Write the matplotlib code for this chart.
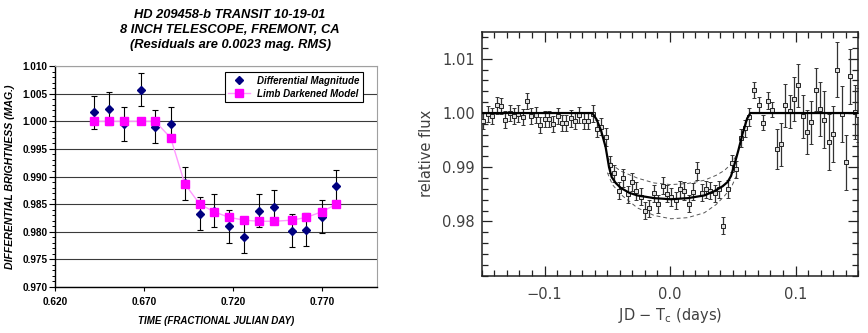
import matplotlib.pyplot as plt
from matplotlib.ticker import MultipleLocator

# ---------------- left panel: 8 inch telescope, Fremont (Excel style) ----------------
time_frac = [0.6421, 0.6503, 0.6585, 0.6681, 0.6762, 0.6850, 0.6929, 0.7013, 0.7095,
             0.7179, 0.7264, 0.7346, 0.7431, 0.7532, 0.7613, 0.7698, 0.7782]
diff_mag = [1.0016, 1.0023, 0.9995, 1.0057, 0.9990, 0.9995, 0.9888, 0.9833, 0.9838,
            0.9810, 0.9791, 0.9838, 0.9845, 0.9802, 0.9804, 0.9827, 0.9882]
diff_err = [0.0030, 0.0030, 0.0030, 0.0030, 0.0030, 0.0030, 0.0030, 0.0030, 0.0030,
            0.0030, 0.0030, 0.0030, 0.0030, 0.0030, 0.0030, 0.0030, 0.0030]
limb_model = [1.0000, 1.0000, 1.0000, 1.0000, 1.0000, 0.9970, 0.9887, 0.9850, 0.9836,
              0.9826, 0.9821, 0.9819, 0.9819, 0.9821, 0.9826, 0.9836, 0.9850]

left_xticks = [0.620, 0.670, 0.720, 0.770]
left_xlabels = ['0.620', '0.670', '0.720', '0.770']
left_yticks = [0.970, 0.975, 0.980, 0.985, 0.990, 0.995, 1.000, 1.005, 1.010]
left_ylabels = ['0.970', '0.975', '0.980', '0.985', '0.990', '0.995', '1.000', '1.005', '1.010']

# ---------------- right panel: published light curve ----------------
jd_tc = [-0.1490, -0.1450, -0.1415, -0.1381, -0.1346, -0.1312, -0.1277, -0.1242, -0.1208,
         -0.1173, -0.1139, -0.1104, -0.1069, -0.1035, -0.1000, -0.0965, -0.0931, -0.0896,
         -0.0862, -0.0827, -0.0792, -0.0758, -0.0723, -0.0688, -0.0651, -0.0617,
         -0.0582, -0.0547, -0.0513, -0.0478, -0.0443, -0.0406, -0.0371, -0.0337, -0.0302,
         -0.0268, -0.0233, -0.0199, -0.0164, -0.0129, -0.0095, -0.0060, -0.0025, 0.0009,
         0.0044, 0.0079, 0.0113, 0.0148, 0.0182, 0.0217, 0.0252, 0.0286, 0.0321, 0.0356,
         0.0390, 0.0425, 0.0459, 0.0494, 0.0529, 0.0563, 0.0598, 0.0632,
         0.0672, 0.0707, 0.0742, 0.0779, 0.0811, 0.0848, 0.0883, 0.0918, 0.0952, 0.0987,
         0.1021, 0.1056, 0.1091, 0.1125, 0.1160, 0.1194, 0.1226, 0.1264, 0.1298, 0.1333,
         0.1367, 0.1402, 0.1437, 0.1471, 0.1500]
rel_flux = [0.9985, 0.9998, 0.9995, 1.0014, 1.0013, 0.9988, 1.0000, 0.9994, 0.9999,
            0.9993, 1.0022, 0.9994, 0.9997, 0.9978, 0.9989, 0.9989, 0.9980, 0.9995,
            0.9982, 0.9981, 0.9990, 0.9985, 0.9996, 0.9985, 0.9985, 0.9999,
            0.9971, 0.9975, 0.9956, 0.9905, 0.9889, 0.9857, 0.9880, 0.9850, 0.9873,
            0.9856, 0.9846, 0.9820, 0.9824, 0.9852, 0.9832, 0.9866, 0.9851, 0.9845,
            0.9839, 0.9859, 0.9856, 0.9833, 0.9855, 0.9893, 0.9853, 0.9859, 0.9857, 0.9852,
            0.9859, 0.9792, 0.9860, 0.9907, 0.9896, 0.9954, 0.9972, 0.9993,
            1.0042, 1.0015, 0.9982, 1.0023, 1.0006, 0.9934, 0.9942, 1.0014, 1.0003, 1.0026,
            1.0051, 0.9994, 0.9965, 0.9983, 1.0043, 1.0008, 0.9988, 0.9947, 0.9961, 1.0080,
            0.9998, 0.9909, 1.0068, 1.0002, 0.9996]
flux_err = [0.0015, 0.0015, 0.0015, 0.0015, 0.0015, 0.0015, 0.0015, 0.0015, 0.0015,
            0.0015, 0.0015, 0.0015, 0.0015, 0.0015, 0.0015, 0.0015, 0.0015, 0.0015,
            0.0015, 0.0015, 0.0015, 0.0015, 0.0015, 0.0015, 0.0015, 0.0015,
            0.0016, 0.0016, 0.0016, 0.0016, 0.0016, 0.0016, 0.0016, 0.0016, 0.0016,
            0.0016, 0.0016, 0.0016, 0.0016, 0.0016, 0.0016, 0.0016, 0.0016, 0.0016,
            0.0016, 0.0016, 0.0016, 0.0016, 0.0016, 0.0016, 0.0016, 0.0016, 0.0016, 0.0016,
            0.0016, 0.0016, 0.0016, 0.0016, 0.0016, 0.0016, 0.0016, 0.0016,
            0.0015, 0.0014, 0.0014, 0.0015, 0.0014, 0.0037, 0.0040, 0.0040, 0.0030, 0.0040,
            0.0040, 0.0040, 0.0040, 0.0040, 0.0040, 0.0050, 0.0052, 0.0052, 0.0052, 0.0051,
            0.0051, 0.0051, 0.0051, 0.0050, 0.0050]

fit_t = [-0.150, -0.0619, -0.0585, -0.0550, -0.0513, -0.0486, -0.0465, -0.0433, -0.0393,
         -0.0326, -0.0260, -0.0126, 0.0007, 0.0140, 0.0273, 0.0353, 0.0419, 0.0459,
         0.0486, 0.0513, 0.0545, 0.0579, 0.0614, 0.0640, 0.150]
fit_flux = [1.0000, 1.0000, 0.9988, 0.9968, 0.9937, 0.9900, 0.9882, 0.9871, 0.9862,
            0.9853, 0.9848, 0.9843, 0.9841, 0.9843, 0.9848, 0.9856, 0.9865, 0.9873,
            0.9884, 0.9905, 0.9932, 0.9963, 0.9990, 1.0000, 1.0000]

band_t = [-0.0499, -0.0459, -0.0393, -0.0260, -0.0126, 0.0007, 0.0140, 0.0273, 0.0366,
          0.0433, 0.0486, 0.0526]
band_hi = [0.9919, 0.9904, 0.9893, 0.9880, 0.9871, 0.9868, 0.9870, 0.9876, 0.9885,
           0.9894, 0.9906, 0.9921]
band_lo = [0.9890, 0.9868, 0.9850, 0.9825, 0.9811, 0.9805, 0.9807, 0.9816, 0.9831,
           0.9847, 0.9862, 0.9883]

right_xticks = [-0.1, 0.0, 0.1]
right_xlabels = ['\u22120.1', '0.0', '0.1']
right_yticks = [0.98, 0.99, 1.00, 1.01]
right_ylabels = ['0.98', '0.99', '1.00', '1.01']

fig = plt.figure(figsize=(8.68, 3.33), dpi=100)

# ---- left ----
bi = dict(family='Liberation Sans', weight='bold', style='italic')
axL = fig.add_axes([0.0634, 0.1381, 0.371, 0.6637])
axL.errorbar(time_frac, diff_mag, yerr=diff_err, fmt='none', ecolor='black',
             elinewidth=0.8, capsize=2.5, capthick=0.8, zorder=3)
axL.plot(time_frac, diff_mag, 'D', color='#000080', ms=4.5, zorder=4,
         label='Differential Magnitude')
axL.plot(time_frac, limb_model, '-', color='#ff99ff', lw=1.0, marker='s',
         mfc='#ff00ff', mec='#ff00ff', ms=5.2, zorder=5, label='Limb Darkened Model')
axL.set_xlim(0.620, 0.801)
axL.set_ylim(0.970, 1.010)
axL.set_xticks(left_xticks)
axL.set_xticklabels(left_xlabels, fontdict=dict(family='Liberation Sans', weight='bold', size=7.2))
axL.set_yticks(left_yticks)
axL.set_yticklabels(left_ylabels, fontdict=dict(family='Liberation Sans', weight='bold', size=7.2))
axL.yaxis.set_minor_locator(MultipleLocator(0.001))
axL.tick_params(axis='y', which='major', direction='out', length=4, width=0.8, pad=1.5)
axL.tick_params(axis='y', which='minor', direction='out', length=2.5, width=0.7)
axL.tick_params(axis='x', which='major', direction='out', length=3, width=0.8, pad=4)
axL.grid(True, axis='y', color='#3a3a3a', lw=0.8)
axL.set_axisbelow(True)
for s in ['top', 'right']:
    axL.spines[s].set_color('#a0a0a0')
for s in ['left', 'bottom']:
    axL.spines[s].set_color('black')
    axL.spines[s].set_linewidth(1.0)
axL.set_xlabel('TIME (FRACTIONAL JULIAN DAY)', fontdict=dict(size=7, **bi), labelpad=7)
axL.set_ylabel('DIFFERENTIAL BRIGHTNESS (MAG.)', fontdict=dict(size=7.6, **bi))
axL.yaxis.set_label_coords(-0.124, 0.5)
leg = axL.legend(loc='upper right', bbox_to_anchor=(0.972, 0.993), fancybox=False,
                 edgecolor='black', framealpha=1, borderpad=0.35, handlelength=2.2,
                 labelspacing=0.3, prop=dict(size=7, **bi))
leg.get_frame().set_linewidth(0.8)

fig.text(0.265, 0.955, 'HD 209458-b TRANSIT 10-19-01', ha='center', va='center', size=9.3, **bi)
fig.text(0.265, 0.910, '8 INCH TELESCOPE, FREMONT, CA', ha='center', va='center', size=9.3, **bi)
fig.text(0.265, 0.865, '(Residuals are 0.0023 mag. RMS)', ha='center', va='center', size=9.3, **bi)

# ---- right ----
gray = '#404040'
axR = fig.add_axes([0.555, 0.1721, 0.4339, 0.7327])
axR.plot(band_t, band_hi, '--', color='#555555', lw=0.7, dashes=(4, 3), zorder=2)
axR.plot(band_t, band_lo, '--', color='#555555', lw=0.7, dashes=(4, 3), zorder=2)
axR.errorbar(jd_tc, rel_flux, yerr=flux_err, fmt='s', ms=3.0, mfc='#dddddd', mec='#222222',
             mew=0.7, ecolor='#333333', elinewidth=0.9, capsize=1.6, capthick=0.9, zorder=3)
axR.plot(fit_t, fit_flux, '-', color='black', lw=1.6, zorder=4)
axR.set_xlim(-0.15, 0.15)
axR.set_ylim(0.970, 1.015)
axR.set_xticks(right_xticks)
axR.set_xticklabels(right_xlabels)
axR.set_yticks(right_yticks)
axR.set_yticklabels(right_ylabels)
axR.xaxis.set_minor_locator(MultipleLocator(0.01))
axR.yaxis.set_minor_locator(MultipleLocator(0.002))
axR.tick_params(which='both', direction='in', top=True, right=True, colors='#222222',
                labelcolor=gray, labelsize=10.5)
axR.tick_params(which='major', length=7, width=0.9)
axR.tick_params(which='minor', length=4, width=0.9)
axR.tick_params(axis='x', pad=8)
axR.tick_params(axis='y', pad=5)
for s in axR.spines.values():
    s.set_linewidth(1.1)
    s.set_color('#222222')
axR.set_xlabel('JD \u2212 T$_\\mathregular{c}$ (days)', fontsize=10.5, color=gray, labelpad=3)
axR.set_ylabel('relative flux', fontsize=10.5, color=gray, labelpad=6)

fig.savefig('out.png', dpi=100)
